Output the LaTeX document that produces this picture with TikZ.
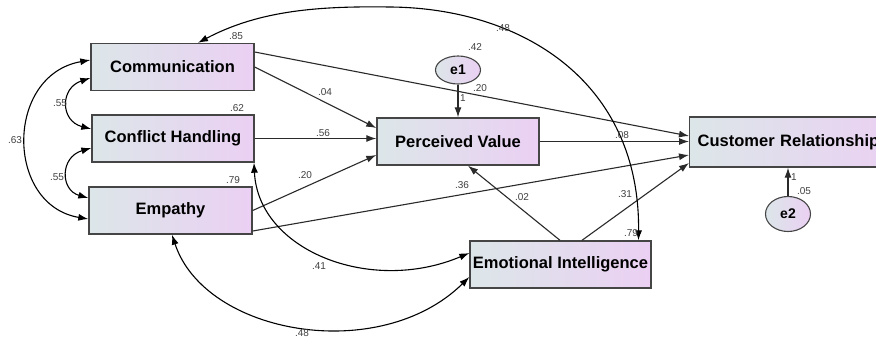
\documentclass[tikz,border=0pt]{standalone}
\usepackage{fontspec}
\setmainfont{Liberation Sans}
\usetikzlibrary{arrows.meta,shapes.geometric}
\definecolor{gl}{HTML}{DCE6E9}
\definecolor{gm}{HTML}{E3DAEE}
\definecolor{gr}{HTML}{EBD0F3}
\definecolor{bord}{HTML}{454545}
\definecolor{ln}{HTML}{2A2A2A}
\begin{document}
\begin{tikzpicture}[x=1pt,y=-1pt,
 box/.style={draw=bord,line width=1.4pt,left color=gl,middle color=gm,right color=gr,font=\fontsize{16.5}{19}\selectfont\bfseries,minimum height=47pt,inner sep=0pt},
 err/.style={ellipse,draw=bord,line width=1.1pt,left color=gl,middle color=gm,right color=gr,font=\fontsize{14}{16}\selectfont\bfseries,inner sep=0pt},
 arr/.style={draw=ln,line width=1.1pt,-{Latex[length=10pt,width=7pt]}},
 cov/.style={draw=black,line width=1.1pt,{Latex[length=10pt,width=7pt]}-{Latex[length=10pt,width=7pt]}},
 lab/.style={font=\fontsize{10}{11}\selectfont,text=black!75,inner sep=0pt}]
\clip (0,0) rectangle (876,338);
\fill[white] (0,0) rectangle (876,338);
% nodes
\node[box,minimum width=163pt] (comm) at (172.5,67) {Communication};
\node[box,minimum width=162pt] (conf) at (173,138.5) {Conflict Handling};
\node[box,minimum width=163pt] (emp) at (170.5,210.5) {Empathy};
\node[box,minimum width=162pt] (pv) at (458,141.5) {Perceived Value};
\node[box,minimum height=50pt,anchor=west,text width=199pt,align=left,inner xsep=8pt] (cr) at (689,142) {Customer Relationship};
\node[box,minimum width=181pt] (ei) at (560.5,264.5) {Emotional Intelligence};
\node[err,minimum width=45pt,minimum height=28pt] (e1) at (458,70) {e1};
\node[err,minimum width=45pt,minimum height=35pt] (e2) at (788,214) {e2};
% paths
\draw[arr] (comm.east) -- ([yshift=13.5pt]pv.west);
\draw[arr] ([yshift=15pt]comm.east) -- ([yshift=6pt]cr.west);
\draw[arr] (conf.east) -- (conf.east -| pv.west);
\draw[arr] (emp.east) -- ([yshift=-13.5pt]pv.west);
\draw[arr] ([yshift=-20.5pt]emp.east) -- ([yshift=-13pt]cr.west);
\draw[arr] (pv.east) -- (pv.east -| cr.west);
\draw[arr] ([xshift=-0.5pt]ei.north) -- ([xshift=10pt]pv.south);
\draw[arr] ([xshift=21.5pt]ei.north) -- ([yshift=-21pt]cr.west);
\draw[arr] (e1.south) -- (pv.north);
\draw[arr] (e2.north) -- (e2.north |- cr.south);
% covariances
\draw[cov] ([yshift=-11pt]comm.west) .. controls (60,88) and (60,121) .. ([yshift=9.5pt]conf.west);
\draw[cov] ([yshift=-9.5pt]conf.west) .. controls (60,157) and (60,190) .. ([yshift=12.5pt]emp.west);
\draw[cov] ([yshift=7pt]comm.west) .. controls (5,75) and (5,205) .. ([yshift=-8.5pt]emp.west);
\draw[cov] ([xshift=25.5pt]comm.north) .. controls (260,10) and (320,6) .. (390,7) .. controls (520,8) and (640,80) .. ([xshift=78pt]ei.north);
\draw[cov] ([xshift=81pt]conf.south) .. controls (258,250) and (370,295) .. ([yshift=11.5pt]ei.west);
\draw[cov] ([xshift=1.5pt]emp.south) .. controls (205,335) and (380,365) .. ([yshift=-12.5pt]ei.west);
% labels
\node[lab] (l1) at (236,36) {.85};
\node[lab] (l2) at (237,108) {.62};
\node[lab] (l3) at (233,180) {.79};
\node[lab] (l4) at (631,233) {.79};
\node[lab] (l5) at (475,47) {.42};
\node[lab] (l6) at (463,98) {1};
\node[lab] (l7) at (325,92) {.04};
\node[lab] (l8) at (480,88) {.20};
\node[lab] (l9) at (323,133) {.56};
\node[lab] (l10) at (305,175) {.20};
\node[lab] (l11) at (462,185) {.36};
\node[lab] (l12) at (622,135) {.08};
\node[lab] (l13) at (522,197) {.02};
\node[lab] (l14) at (625,194) {.31};
\node[lab] (l15) at (319,266) {.41};
\node[lab] (l16) at (302,333) {.48};
\node[lab] (l17) at (503,28) {.48};
\node[lab] (l18) at (60,103) {.55};
\node[lab] (l19) at (57,177) {.55};
\node[lab] (l20) at (15,140) {.63};
\node[lab] (l21) at (794,177) {1};
\node[lab] (l22) at (804,191) {.05};
\end{tikzpicture}
\end{document}
